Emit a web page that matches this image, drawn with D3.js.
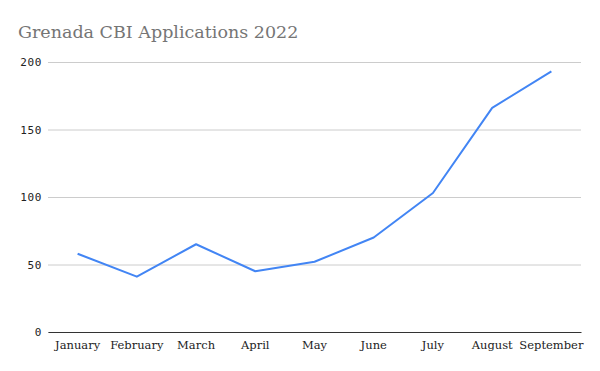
<!DOCTYPE html>
<html><head><meta charset="utf-8">
<script src="https://cdn.jsdelivr.net/npm/d3@7"></script>
<style>body{margin:0;background:#fff}</style>
</head><body><svg id="c" width="600" height="371"></svg>
<script>
const months = ["January","February","March","April","May","June","July","August","September"];
const applications = [58, 41, 65, 45, 52, 70, 103, 166, 193];
const yTicks = [0, 50, 100, 150, 200];
const title = "Grenada CBI Applications 2022";

const svg = d3.select("#c");
const m = {left: 48, right: 19, top: 62, bottom: 39};
const W = 600, H = 371;
const x = d3.scaleBand().domain(months).range([m.left, W - m.right]);
const y = d3.scaleLinear().domain([0, 200]).range([H - m.bottom, m.top]);

svg.append("rect").attr("width", W).attr("height", H).attr("fill", "#fff");
svg.append("text").attr("x", 18).attr("y", 38).text(title)
  .attr("font-family", "'DejaVu Serif', Georgia, serif").attr("font-size", 17.5).attr("fill", "#757575");

const ga = svg.append("g").attr("transform", `translate(${m.left},0)`)
  .call(d3.axisLeft(y).tickValues(yTicks).tickSize(-(W - m.left - m.right)).tickPadding(6));
ga.select(".domain").remove();
ga.selectAll(".tick line").attr("stroke", "#cccccc");
ga.selectAll(".tick text").attr("font-family", "'DejaVu Sans Mono', monospace").attr("font-size", 11)
  .attr("letter-spacing", 0.6).attr("fill", "#222");

const gx = svg.append("g").attr("transform", `translate(0,${H - m.bottom})`)
  .call(d3.axisBottom(x).tickSize(0).tickPadding(9));
gx.select(".domain").attr("stroke", "#333");
gx.selectAll(".tick text").attr("font-family", "'DejaVu Serif', serif").attr("font-size", 11.5).attr("fill", "#222");

const line = d3.line().x((d, i) => x(months[i]) + x.bandwidth() / 2).y(d => y(d));
svg.append("path").datum(applications).attr("d", line)
  .attr("fill", "none").attr("stroke", "#4285F4").attr("stroke-width", 2).attr("stroke-linejoin", "round");
</script></body></html>
